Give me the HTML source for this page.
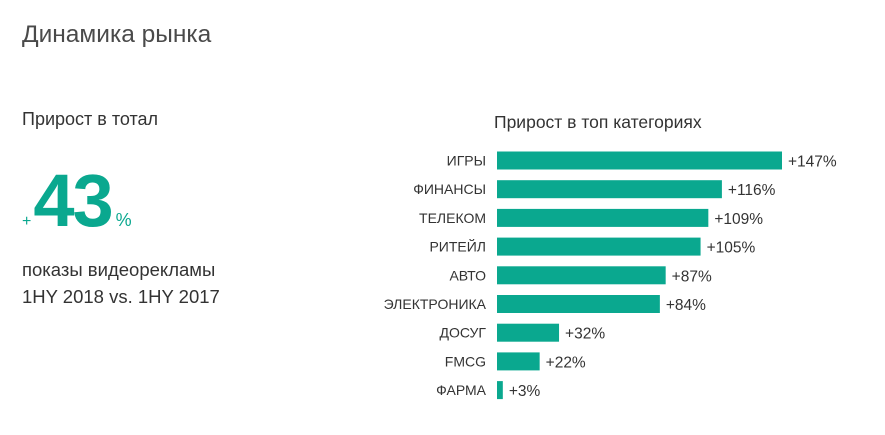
<!DOCTYPE html>
<html><head><meta charset="utf-8"><style>
body{margin:0;width:885px;height:435px;background:#fff;font-family:"Liberation Sans",sans-serif;color:#444;position:relative;overflow:hidden}
.t{position:absolute;white-space:nowrap}
</style></head><body>
<div class="t" style="left:22px;top:21px;font-size:24.5px;color:#4a4a4a">Динамика рынка</div>
<div class="t" style="left:22px;top:109px;font-size:18px;color:#333">Прирост в тотал</div>
<div class="t" style="left:22px;top:158px;color:#0aa88f">
<span style="font-size:16px">+</span><span style="font-size:74px;font-weight:bold;letter-spacing:-2px;margin-left:2px">43</span><span style="font-size:18px;margin-left:4px">%</span></div>
<div class="t" style="left:22px;top:256px;font-size:18.5px;line-height:27px;color:#333">показы видеорекламы<br>1HY 2018 vs. 1HY 2017</div>
<div class="t" style="left:494px;top:112px;font-size:17.5px;color:#333">Прирост в топ категориях</div>
<svg id="c" width="885" height="435" style="position:absolute;left:0;top:0"></svg>
<script>
const categories=["ИГРЫ","ФИНАНСЫ","ТЕЛЕКОМ","РИТЕЙЛ","АВТО","ЭЛЕКТРОНИКА","ДОСУГ","FMCG","ФАРМА"];
const values=[147,116,109,105,87,84,32,22,3];
const labels=["+147%","+116%","+109%","+105%","+87%","+84%","+32%","+22%","+3%"];
const svg=document.getElementById('c');const ns="http://www.w3.org/2000/svg";
const x0=497,k=285/147,y0=160.5,step=28.7,bh=18;
const xs=v=>x0+v*k, ys=i=>y0+i*step;
categories.forEach((c,i)=>{
 const r=document.createElementNS(ns,'rect');
 
 
 r.setAttribute('x',x0);r.setAttribute('y',ys(i)-bh/2);r.setAttribute('width',xs(values[i])-x0);r.setAttribute('height',bh);r.setAttribute('fill','#0aa88f');svg.appendChild(r);
 const t=document.createElementNS(ns,'text');
 
 
 t.setAttribute('x',486);t.setAttribute('y',ys(i)+5);t.setAttribute('text-anchor','end');t.setAttribute('font-size','14');t.setAttribute('fill','#333');t.textContent=c;svg.appendChild(t);
 const v=document.createElementNS(ns,'text');
 
 
 v.setAttribute('x',xs(values[i])+6);v.setAttribute('y',ys(i)+6);v.setAttribute('font-size','15.5');v.setAttribute('fill','#333');v.textContent=labels[i];svg.appendChild(v);
});
</script>
</body></html>
